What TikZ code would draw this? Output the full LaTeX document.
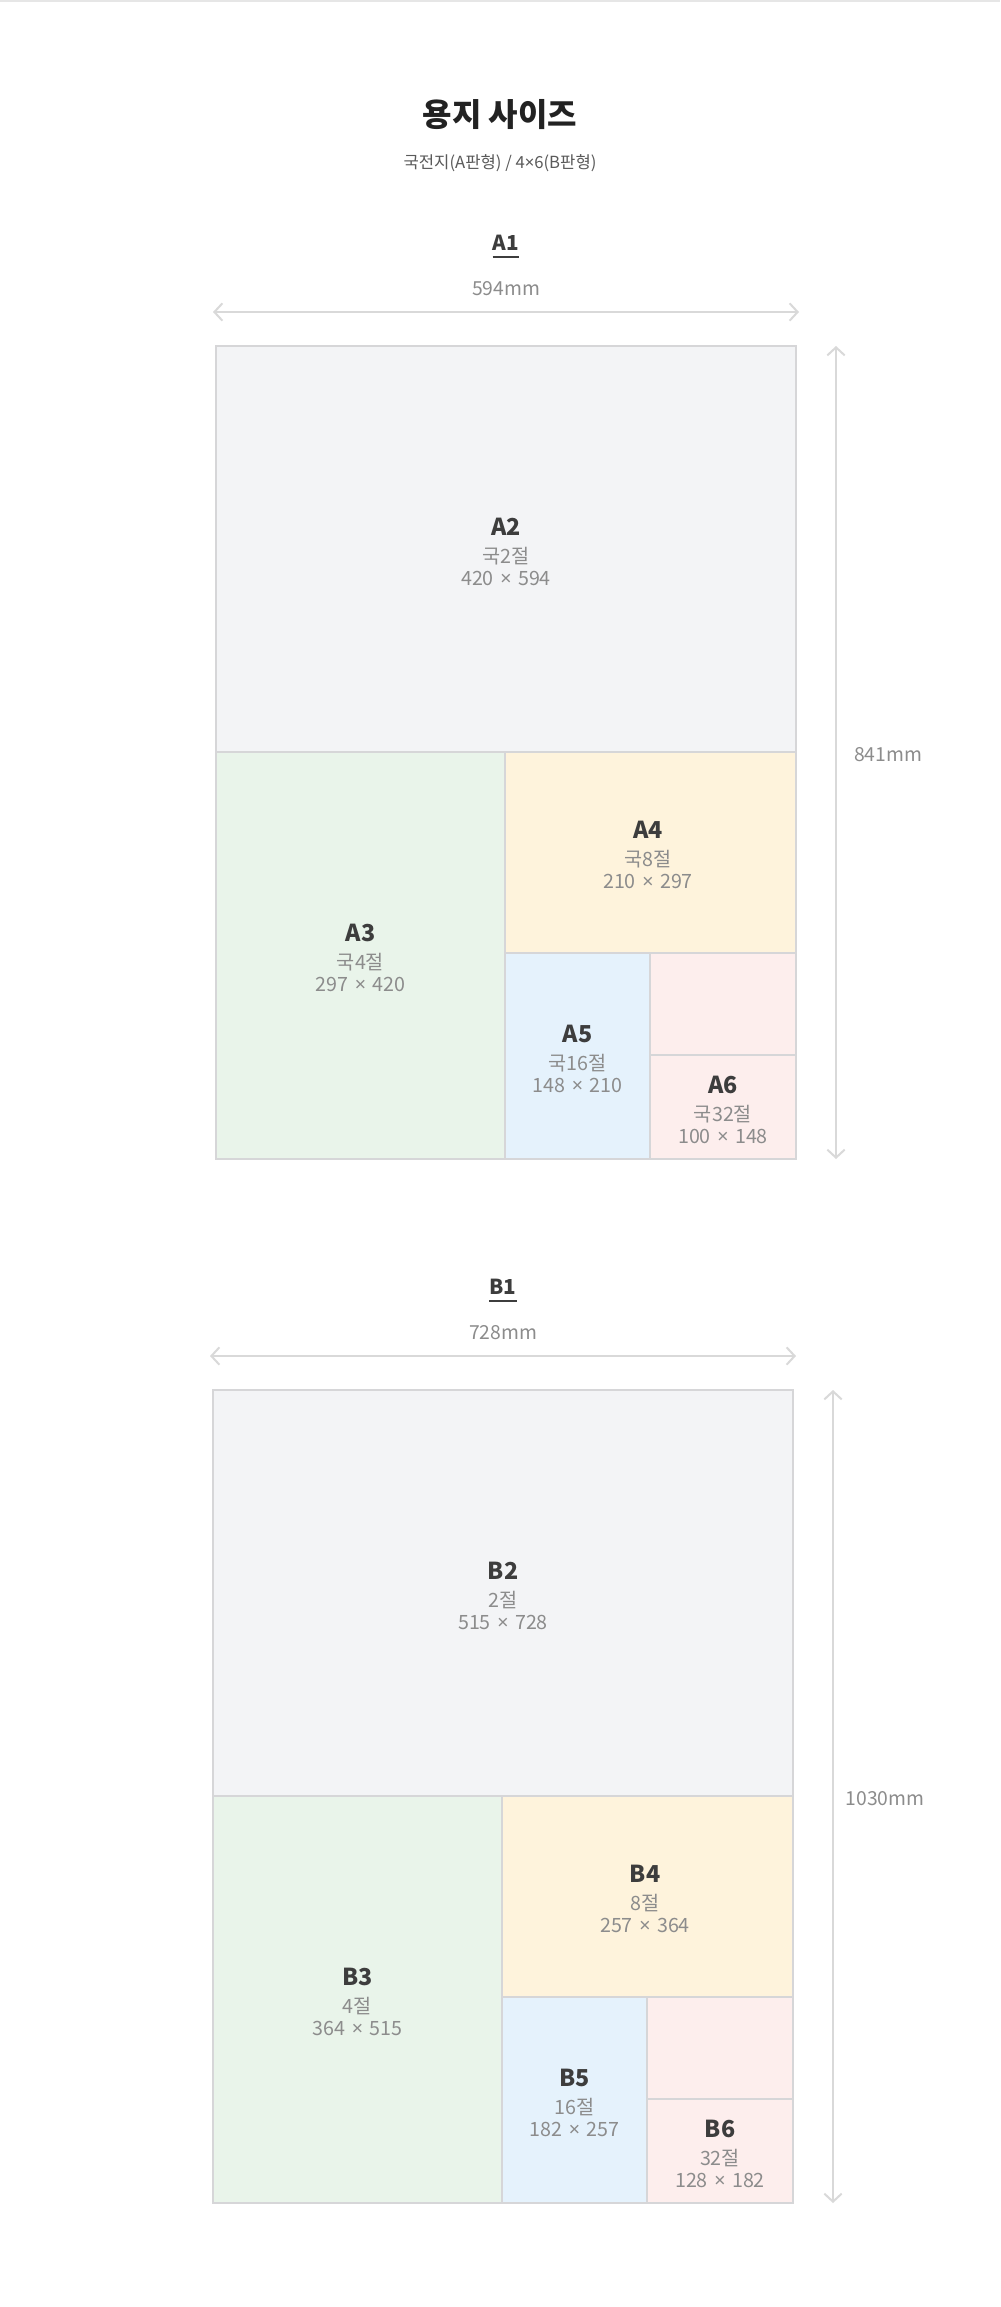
\documentclass[tikz,border=0pt]{standalone}
\usepackage{fontspec}
\setmainfont{Noto Sans CJK KR}
\newfontfamily\latinx{Noto Sans}
\newcommand\X{\hspace{0.33em}{\latinx ×}\hspace{0.33em}}
\usetikzlibrary{arrows.meta}
\definecolor{titlec}{HTML}{222222}
\definecolor{labc}{HTML}{3D3D3D}
\definecolor{subc}{HTML}{8C8C8C}
\definecolor{dimc}{HTML}{D9D9D9}
\definecolor{edgec}{HTML}{D6D6D8}
\definecolor{fillA}{HTML}{F3F4F6}
\definecolor{fillB}{HTML}{E9F4EA}
\definecolor{fillC}{HTML}{FEF3DC}
\definecolor{fillD}{HTML}{E5F2FC}
\definecolor{fillE}{HTML}{FDEEED}
\definecolor{topline}{HTML}{E6E6E6}
\tikzset{
  cell/.style={draw=edgec, line width=1.6pt},
  boxlab/.style={inner sep=0pt, text=labc, font=\bfseries\fontsize{17.5}{20}\selectfont},
  boxsub/.style={inner sep=0pt, text=subc, font=\fontsize{14.75}{17}\selectfont},
  dimlab/.style={inner sep=0pt, text=subc, font=\fontsize{14.5}{17}\selectfont},
  dimarrow/.style={draw=dimc, line width=1.5pt,
    {Straight Barb[length=6pt,width=13pt,line width=1.5pt]}-{Straight Barb[length=6pt,width=13pt,line width=1.5pt]}},
  sheetlab/.style={inner sep=0pt, text=labc, font=\bfseries\fontsize{15.5}{18}\selectfont},
}
\begin{document}
\begin{tikzpicture}[x=0.75pt,y=-0.75pt]
\useasboundingbox (0,0) rectangle (1000,2307);
\fill[white] (0,0) rectangle (1000,2307);
\draw[topline, line width=1.5pt] (0,1) -- (1000,1);

\node[inner sep=0pt, text=titlec, font=\bfseries\fontsize{24}{28}\selectfont] (title) at (500,115) {용지 사이즈};
\node[inner sep=0pt, text=labc!85!white, font=\fontsize{12.5}{15}\selectfont] (subtitle) at (500,163) {국전지(A판형) / 4{\latinx ×}6(B판형)};

% ---------- A section ----------
\begin{scope}
\node[sheetlab] (a1) at (506,243) {A1};
\draw[labc, line width=1.5pt] ([yshift=-4.5pt]a1.south west) -- ([yshift=-4.5pt]a1.south east);
\node[dimlab] (awl) at (506,289) {594mm};
\coordinate (awL) at (213,312);
\coordinate (awR) at (799,312);
\draw[dimarrow] (awL) -- (awR);
\coordinate (ahT) at (836,346);
\coordinate (ahB) at (836,1159);
\draw[dimarrow] (ahT) -- (ahB);
\node[dimlab] (ahl) at (888,755) {841mm};

\draw[cell, fill=fillA] (216,346) rectangle (796,752);
\draw[cell, fill=fillB] (216,752) rectangle (505,1159);
\draw[cell, fill=fillC] (505,752) rectangle (796,953);
\draw[cell, fill=fillD] (505,953) rectangle (650,1159);
\draw[cell, fill=fillE] (650,953) rectangle (796,1055);
\draw[cell, fill=fillE] (650,1055) rectangle (796,1159);

\node[boxlab] (a2) at (506,527) {A2};
\node[boxsub] (a2s) at (506,556) {국2절};
\node[boxsub] (a2d) at (506,578) {420\X594};

\node[boxlab] (a3) at (360.5,933) {A3};
\node[boxsub] (a3s) at (360.5,962) {국4절};
\node[boxsub] (a3d) at (360.5,984) {297\X420};

\node[boxlab] (a4) at (648,830) {A4};
\node[boxsub] (a4s) at (648,859) {국8절};
\node[boxsub] (a4d) at (648,881) {210\X297};

\node[boxlab] (a5) at (577.5,1034) {A5};
\node[boxsub] (a5s) at (577.5,1063) {국16절};
\node[boxsub] (a5d) at (577.5,1085) {148\X210};

\node[boxlab] (a6) at (723,1085) {A6};
\node[boxsub] (a6s) at (723,1114) {국32절};
\node[boxsub] (a6d) at (723,1136) {100\X148};
\end{scope}

% ---------- B section ----------
\begin{scope}[shift={(-3,1044)}]
\node[sheetlab] (b1) at (506,243) {B1};
\draw[labc, line width=1.5pt] ([yshift=-4.5pt]b1.south west) -- ([yshift=-4.5pt]b1.south east);
\node[dimlab] (bwl) at (506,289) {728mm};
\coordinate (bwL) at (213,312);
\coordinate (bwR) at (799,312);
\draw[dimarrow] (bwL) -- (bwR);
\coordinate (bhT) at (836,346);
\coordinate (bhB) at (836,1159);
\draw[dimarrow] (bhT) -- (bhB);
\node[dimlab] (bhl) at (888,755) {1030mm};

\draw[cell, fill=fillA] (216,346) rectangle (796,752);
\draw[cell, fill=fillB] (216,752) rectangle (505,1159);
\draw[cell, fill=fillC] (505,752) rectangle (796,953);
\draw[cell, fill=fillD] (505,953) rectangle (650,1159);
\draw[cell, fill=fillE] (650,953) rectangle (796,1055);
\draw[cell, fill=fillE] (650,1055) rectangle (796,1159);

\node[boxlab] (b2) at (506,527) {B2};
\node[boxsub] (b2s) at (506,556) {2절};
\node[boxsub] (b2d) at (506,578) {515\X728};

\node[boxlab] (b3) at (360.5,933) {B3};
\node[boxsub] (b3s) at (360.5,962) {4절};
\node[boxsub] (b3d) at (360.5,984) {364\X515};

\node[boxlab] (b4) at (648,830) {B4};
\node[boxsub] (b4s) at (648,859) {8절};
\node[boxsub] (b4d) at (648,881) {257\X364};

\node[boxlab] (b5) at (577.5,1034) {B5};
\node[boxsub] (b5s) at (577.5,1063) {16절};
\node[boxsub] (b5d) at (577.5,1085) {182\X257};

\node[boxlab] (b6) at (723,1085) {B6};
\node[boxsub] (b6s) at (723,1114) {32절};
\node[boxsub] (b6d) at (723,1136) {128\X182};
\end{scope}
\end{tikzpicture}
\end{document}
